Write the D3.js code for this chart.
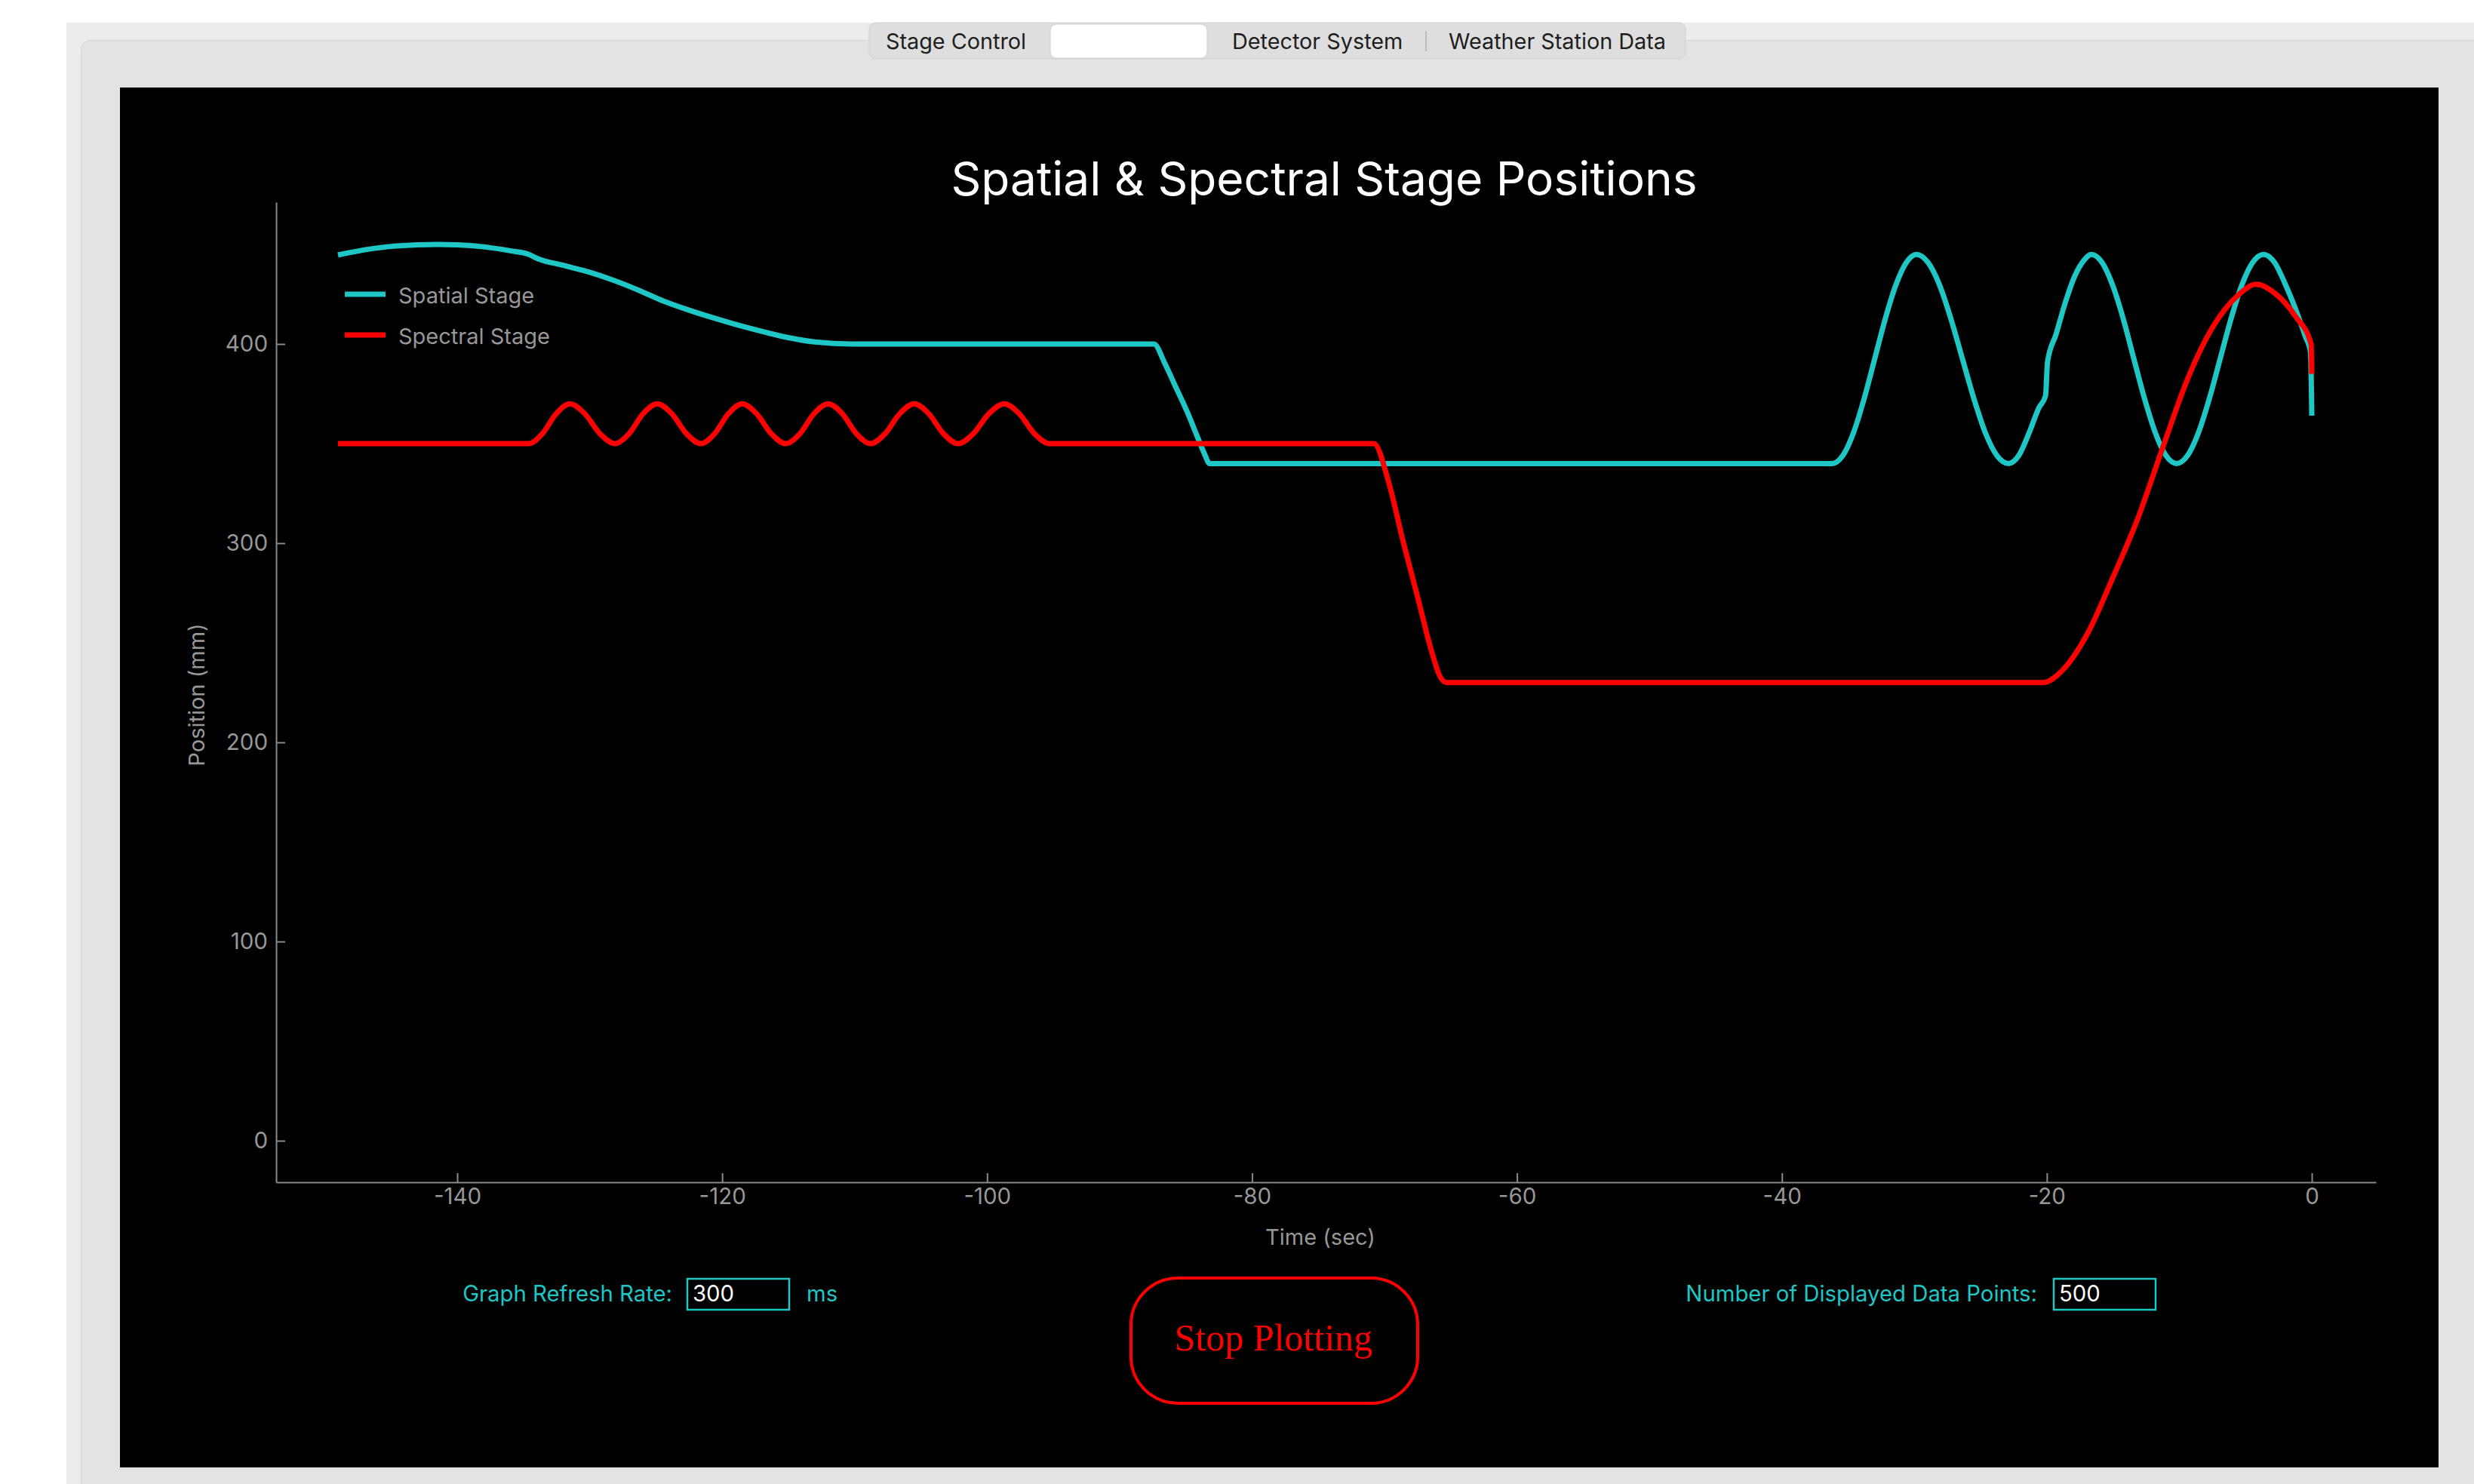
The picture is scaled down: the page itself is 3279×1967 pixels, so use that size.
<!DOCTYPE html>
<html>
<head>
<meta charset="utf-8">
<script src="https://cdn.jsdelivr.net/npm/d3@7"></script>
<style>
  html, body { margin: 0; padding: 0; background: #ffffff; overflow: hidden; }
  svg { display: block; }
</style>
</head>
<body>
<svg id="chart" width="3279" height="1967"></svg>
<script>
// ---------- data ----------
const seriesNames = ["Spatial Stage", "Spectral Stage"];
const tabLabels = ["Stage Control", "", "Detector System", "Weather Station Data"];
const xTicks = [-140, -120, -100, -80, -60, -40, -20, 0];
const yTicks = [0, 100, 200, 300, 400];

const spatialTime = [
  -149.0, -147.0, -145.0, -143.0, -141.5, -140.0, -138.0, -136.0, -134.6, -133.9,
  -132.0, -130.0, -128.2, -126.3, -124.4, -122.5, -120.6, -118.7, -116.8, -115.0,
  -113.0, -110.2, -100.0, -87.4, -86.6, -85.8, -84.9, -84.1, -83.6, -83.2,
  -60.0, -36.2, -35.4, -34.6, -33.8, -33.0, -32.2, -31.4, -30.6, -29.85,
  -28.98, -28.1, -27.24, -26.37, -25.5, -24.64, -23.77, -22.9, -22.12, -21.34,
  -20.6, -20.1, -19.95, -19.3, -18.6, -17.9, -17.2, -16.65, -15.84, -15.04,
  -14.23, -13.43, -12.62, -11.81, -11.01, -10.2, -9.38, -8.56, -7.74, -6.92,
  -6.1, -5.28, -4.46, -3.64, -2.82, -2.0, -1.2, -0.5, -0.1, 0.0
];
const spatialPos = [
  444.7, 447.3, 449.0, 449.8, 450.0, 449.8, 448.8, 446.8, 445.0, 442.8,
  439.5, 436.0, 432.0, 427.0, 421.5, 417.0, 413.0, 409.3, 406.0, 403.2,
  401.0, 400.0, 400.0, 400.0, 390.5, 379.0, 366.0, 353.0, 345.0, 340.0,
  340.0, 340.0, 344.0, 355.4, 372.4, 392.5, 412.6, 429.6, 441.0, 445.0,
  441.0, 429.6, 412.6, 392.5, 372.4, 355.4, 344.0, 340.0, 344.0, 355.4,
  368.0, 374.0, 391.0, 405.0, 421.0, 434.0, 442.0, 445.0, 441.0, 429.6,
  412.6, 392.5, 372.4, 355.4, 344.0, 340.0, 344.0, 355.4, 372.4, 392.5,
  412.6, 429.6, 441.0, 445.0, 441.0, 430.0, 417.0, 404.0, 396.0, 364.0
];

const spectralTime = [
  -149.0, -140.0, -134.6, -133.57, -132.53, -131.5, -130.37, -129.23, -128.1, -127.03,
  -125.97, -124.9, -123.8, -122.7, -121.6, -120.57, -119.53, -118.5, -117.4, -116.3,
  -115.2, -114.13, -113.07, -112.0, -110.93, -109.87, -108.8, -107.7, -106.6, -105.5,
  -104.4, -103.3, -102.2, -101.03, -99.87, -98.7, -97.57, -96.43, -95.3, -80.0,
  -70.8, -69.7, -68.6, -67.5, -66.5, -65.8, -65.3, -40.0, -20.3, -18.85,
  -16.9, -15.0, -13.1, -11.2, -9.3, -7.45, -5.55, -4.2, -2.7, -1.2,
  -0.05, 0.0
];
const spectralPos = [
  350, 350, 350, 355, 365, 370, 365, 355, 350, 355,
  365, 370, 365, 355, 350, 355, 365, 370, 365, 355,
  350, 355, 365, 370, 365, 355, 350, 355, 365, 370,
  365, 355, 350, 355, 365, 370, 365, 355, 350, 350,
  350, 331, 301, 273, 247, 233, 230, 230, 230, 236,
  255, 283, 313, 349, 383.7, 408.8, 424.6, 430, 425, 413.6,
  400, 385
];

const refreshRate = "300";
const displayedPoints = "500";

// ---------- styles ----------
const CYAN = "#1ec6c6";
const RED = "#ff0000";
const GREY_TXT = "#979797";
const AXIS_CLR = "#8a8a8a";
const FONT = "Inter, 'Noto Sans', 'DejaVu Sans', sans-serif";

const svg = d3.select("#chart");

// window chrome
svg.append("rect").attr("x", 88).attr("y", 30).attr("width", 3279 - 88).attr("height", 1967 - 30).attr("fill", "#ececec");
svg.append("rect").attr("x", 107.5).attr("y", 53.5).attr("width", 3279).attr("height", 2000)
  .attr("rx", 12).attr("fill", "#e3e3e3").attr("stroke", "#d7d7d7").attr("stroke-width", 1);

// tab bar
const tabs = svg.append("g");
tabs.append("rect").attr("x", 1152).attr("y", 30).attr("width", 1082).attr("height", 48)
  .attr("rx", 9).attr("fill", "#dedede").attr("stroke", "#d0d0d0").attr("stroke-width", 1);
tabs.append("rect").attr("x", 1392).attr("y", 32).attr("width", 208).attr("height", 45)
  .attr("rx", 8).attr("fill", "#ffffff").attr("stroke", "#cfcfcf").attr("stroke-width", 1);
tabs.append("line").attr("x1", 1890).attr("x2", 1890).attr("y1", 41).attr("y2", 68)
  .attr("stroke", "#bdbdbd").attr("stroke-width", 2);
const tabX = [1174, 1410, 1633, 1920];
tabs.selectAll("text.tab").data(tabLabels).join("text")
  .attr("class", "tab")
  .attr("x", (d, i) => tabX[i]).attr("y", 65)
  .attr("font-family", FONT).attr("font-size", 28.8).attr("fill", "#1e1e1e")
  .text(d => d);

// black plot area
svg.append("rect").attr("x", 159).attr("y", 116).attr("width", 3232 - 159).attr("height", 1945 - 116).attr("fill", "#000000");

// scales
const x = d3.scaleLinear().domain([-153.67, 4.84]).range([366, 3149]);
const y = d3.scaleLinear().domain([-20.83, 471.2]).range([1567, 268]);

// axes
const xAxis = svg.append("g").attr("transform", "translate(0,1567)")
  .call(d3.axisBottom(x).tickValues(xTicks).tickSizeInner(-12).tickSizeOuter(0).tickPadding(8)
    .tickFormat(d => String(d)));
const yAxis = svg.append("g").attr("transform", "translate(366,0)")
  .call(d3.axisLeft(y).tickValues(yTicks).tickSizeInner(-12).tickSizeOuter(0).tickPadding(11)
    .tickFormat(d => String(d)));
[xAxis, yAxis].forEach(a => {
  a.selectAll("path.domain").attr("stroke", AXIS_CLR).attr("stroke-width", 2);
  a.selectAll(".tick line").attr("stroke", AXIS_CLR).attr("stroke-width", 2);
  a.selectAll(".tick text").attr("fill", GREY_TXT).attr("font-family", FONT).attr("font-size", 29.5);
});

// axis titles
svg.append("text").attr("x", 1750).attr("y", 1650).attr("text-anchor", "middle")
  .attr("font-family", FONT).attr("font-size", 29).attr("fill", GREY_TXT).text("Time (sec)");
svg.append("text").attr("transform", "translate(271,921) rotate(-90)").attr("text-anchor", "middle")
  .attr("font-family", FONT).attr("font-size", 29).attr("fill", GREY_TXT).text("Position (mm)");

// title
svg.append("text").attr("x", 1755).attr("y", 259).attr("text-anchor", "middle")
  .attr("font-family", FONT).attr("font-size", 62.2).attr("fill", "#ffffff")
  .text("Spatial & Spectral Stage Positions");

// lines
const spatial = spatialTime.map((t, i) => [t, spatialPos[i]]);
const spectral = spectralTime.map((t, i) => [t, spectralPos[i]]);
const line = d3.line().x(d => x(d[0])).y(d => y(d[1])).curve(d3.curveMonotoneX);

svg.append("path").datum(spatial).attr("d", line)
  .attr("fill", "none").attr("stroke", CYAN).attr("stroke-width", 7).attr("stroke-linejoin", "round");
svg.append("path").datum(spectral).attr("d", line)
  .attr("fill", "none").attr("stroke", RED).attr("stroke-width", 7).attr("stroke-linejoin", "round");

// legend
const legend = svg.append("g");
const legColors = [CYAN, RED];
seriesNames.forEach((name, i) => {
  const ly = 390 + i * 54;
  legend.append("line").attr("x1", 457).attr("x2", 511).attr("y1", ly).attr("y2", ly)
    .attr("stroke", legColors[i]).attr("stroke-width", 7);
  legend.append("text").attr("x", 528).attr("y", ly + 12)
    .attr("font-family", FONT).attr("font-size", 29).attr("fill", GREY_TXT).text(name);
});

// bottom controls
const ctl = svg.append("g").attr("font-family", FONT).attr("font-size", 29.3);
ctl.append("text").attr("x", 891).attr("y", 1725).attr("text-anchor", "end").attr("fill", CYAN).text("Graph Refresh Rate:");
ctl.append("rect").attr("x", 911).attr("y", 1695).attr("width", 135).attr("height", 41)
  .attr("fill", "#000").attr("stroke", CYAN).attr("stroke-width", 2.5);
ctl.append("text").attr("x", 918).attr("y", 1725).attr("fill", "#ffffff").text(refreshRate);
ctl.append("text").attr("x", 1069).attr("y", 1725).attr("fill", CYAN).text("ms");

ctl.append("text").attr("x", 2700).attr("y", 1725).attr("text-anchor", "end").attr("fill", CYAN).text("Number of Displayed Data Points:");
ctl.append("rect").attr("x", 2722).attr("y", 1695).attr("width", 135).attr("height", 41)
  .attr("fill", "#000").attr("stroke", CYAN).attr("stroke-width", 2.5);
ctl.append("text").attr("x", 2729).attr("y", 1725).attr("fill", "#ffffff").text(displayedPoints);

// stop button
svg.append("rect").attr("x", 1499).attr("y", 1694).attr("width", 380).attr("height", 166)
  .attr("rx", 62).attr("fill", "none").attr("stroke", RED).attr("stroke-width", 4);
svg.append("text").attr("x", 1688).attr("y", 1790).attr("text-anchor", "middle")
  .attr("font-family", "'Liberation Serif', 'DejaVu Serif', serif").attr("font-size", 50)
  .attr("fill", RED).text("Stop Plotting");
</script>
</body>
</html>
